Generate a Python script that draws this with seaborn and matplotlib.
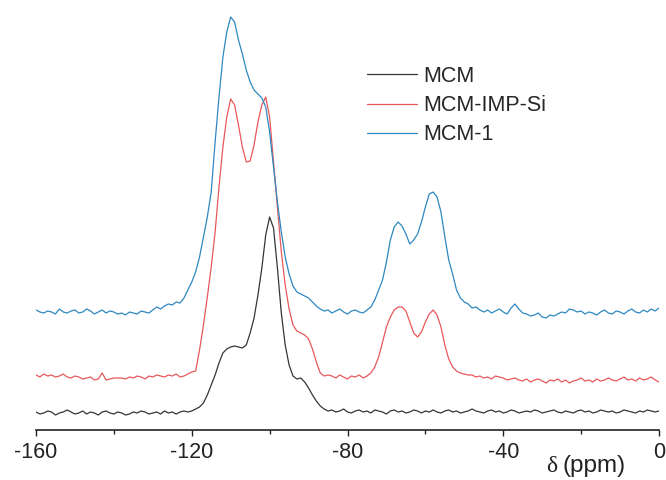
import numpy as np
import pandas as pd
import seaborn as sns
import matplotlib.pyplot as plt

# ----- chemical shift axis (ppm) ----- #
ppm = np.arange(-160, 1, 1)

# ----- intensities (arbitrary units, baseline ~0) ----- #
mcm = [1, -1, 0, 2, 1, -2, 0, 1, 3, 1, -1, 0, 2, -1, 1, 0, -2, 1, 2, 0,
       -1, 1, 0, -2, -1, 1, 0, 2, 1, -1, 0, 1, -1, 2, 0, 1, -1, 1, 2, 1,
       2, 4, 6, 10, 18, 28, 38, 50, 60, 64, 66, 67, 66, 65, 68, 80, 95, 118, 145, 178,
       196, 185, 145, 100, 68, 48, 37, 34, 35, 31, 25, 18, 12, 7, 4, 2,
       3, 1, 2, 4, 1, 0, 2, 3, 1, 2, 0, 3, 2, 1, -1, 2, 3, 1, 2, 0,
       1, 3, 2, 0, 2, 1, 3, 1, 0, 2, 3, 1, 2, 0, 1, 2, 4, 2, 1, 0,
       2, 3, 1, 2, 0, 1, 3, 2, 0, 1, 2, 1, 3, 2, 0, 1, 2, 3, 1, 0,
       2, 1, 0, 2, 3, 1, 2, 0, 1, 3, 2, 1, 2, 0, 1, 3, 2, 1, 0, 2,
       1, 3, 2, 1, 2]

mcm_imp_si = [2, 0, 3, 1, 2, 0, 1, 3, 0, -1, 1, 0, -2, -1, 0, -3, -2, 4, -3, -2,
              -1, -1, -1, -2, 0, -1, 1, 0, -2, 1, 0, 2, 1, 0, 2, 1, 3, 0, 1, 3, 5,
              6, 27, 52, 80, 110, 145, 190, 230, 260, 278, 272, 252, 230, 215, 216,
              232, 255, 272, 280, 260, 215, 170, 125, 92, 68, 52, 46, 44, 42, 38,
              28, 15, 4, 1, 2,
              1, -1, 2, 0, -2, 1, 0, 2, -1, 1,
              4, 10, 20, 35, 50, 60, 67, 70, 70, 66, 55, 44, 40, 45, 55, 63, 67, 62,
              50, 32, 18, 10, 6, 4, 3, 2, 2,
              0, 1, -1, 0, -2, 1, 0, -1, -3, -2, -1, -3, -4, -2, -5, -3, -2, -4, -6, -3,
              -4, -2, -5, -3, -6, -4, -3, -1, -4, -3, -5, -2, -4, -3, -1, -3, -4, -2,
              0, -3, -2, -4, -1, -3, -2, 0, -3, -5]

mcm_1 = [2, 0, -1, 1, 0, -2, 3, 0, -1, 1, 2, -1, 0, 3, 1, -2, 0, 2, -1, 1,
         0, -2, -1, -3, 0, -1, -2, 1, 0, -1, 2, 5, 3, 6, 8, 7, 10, 9,
         14, 22, 30, 40, 55, 75, 95, 120, 170, 215, 255, 280, 295, 290, 272, 258,
         242, 230, 222, 218, 214, 205, 180, 145, 110, 80, 55, 38, 26, 20, 18, 16,
         14, 10, 6, 3, 1,
         2, -1, 1, 3, 0, -2, 1, 2, 0, -1, 2,
         5, 12, 22, 32, 50, 72, 85, 90, 86, 78, 68, 72, 78, 90, 105, 118, 120, 115,
         100, 75, 52, 38, 22, 14, 10, 8, 4, 5, 2,
         0, 2, -1, 1, 3, 0, -2, 4, 8, 3, -1, -2, -4, -3, -1, -5, -6, -3, -4, -2,
         0, -1, 3, 2, 0, 1, -2, 0, -1, -3, 0, 2, -1, -2, 1, 0, -2, 1, 3, 0,
         -1, 2, 0, 3, 1, 4]

labels = ['MCM', 'MCM-IMP-Si', 'MCM-1']
offsets = [0, 36, 101]
colors = ['#363636', '#e8585a', '#2e88c0']

# ----- long-form table, stacked with vertical offsets ----- #
frames = []
for name, vals, off in zip(labels, [mcm, mcm_imp_si, mcm_1], offsets):
    frames.append(pd.DataFrame({'ppm': ppm, 'intensity': np.array(vals) + off,
                                'sample': name}))
df = pd.concat(frames, ignore_index=True)

sns.set_style('white')
plt.rcParams['font.family'] = ['Liberation Sans', 'DejaVu Sans']
plt.rcParams['axes.unicode_minus'] = False

fig = plt.figure(figsize=(6.66, 4.8), dpi=100)
ax = fig.add_axes([36 / 666, 50 / 480, 623 / 666, 430 / 480])

sns.lineplot(data=df, x='ppm', y='intensity', hue='sample', hue_order=labels,
             palette=colors, linewidth=0.9, ax=ax, legend=True)

ax.set_xlim(-160, 0)
ax.set_ylim(-17, 413)
ax.set_xticks([-160, -120, -80, -40, 0])
ax.set_xticks([-140, -100, -60, -20], minor=True)
ax.tick_params(axis='x', which='major', direction='out', length=4.3, width=1,
               labelsize=15.5, pad=4, colors='#222222', bottom=True)
ax.tick_params(axis='x', which='minor', direction='out', length=2.6, width=1,
               bottom=True, colors='#222222')
ax.set_yticks([])
ax.set_xlabel('')
ax.set_ylabel('')
for s in ['top', 'right', 'left']:
    ax.spines[s].set_visible(False)
ax.spines['bottom'].set_color('#222222')
ax.spines['bottom'].set_linewidth(1.2)

ax.legend(loc='upper left', bbox_to_anchor=(367 / 666, 1 - 66 / 480),
          bbox_transform=fig.transFigure, frameon=False, fontsize=15.5,
          handlelength=2.3, handletextpad=0.3, labelspacing=0.38,
          borderpad=0, borderaxespad=0)

# ----- axis title with a serif delta ----- #
fig.text(552 / 666, 1 - 466 / 480, 'δ', family='Liberation Serif', fontsize=17,
         ha='center', va='center', color='#222222')
fig.text(562 / 666, 1 - 466 / 480, '(ppm)', fontsize=17.5,
         ha='left', va='center', color='#222222')

fig.savefig('out.png', dpi=100)
